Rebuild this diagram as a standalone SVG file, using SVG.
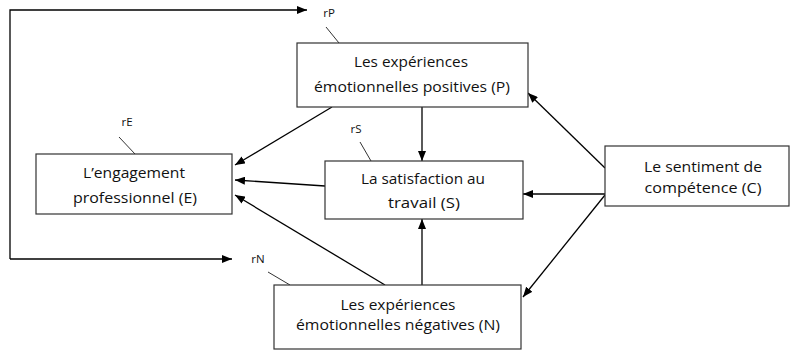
<svg xmlns="http://www.w3.org/2000/svg" width="790" height="353" viewBox="0 0 790 353">
<defs>
<marker id="ah" viewBox="0 0 10 8" refX="10" refY="4" markerWidth="10" markerHeight="8" markerUnits="userSpaceOnUse" orient="auto">
<path d="M0,0 L10,4 L0,8 Z" fill="#000"/>
</marker>
<style>
.box{fill:#fff;stroke:#333;stroke-width:1.2}
.t{font-family:"Open Sans","Liberation Sans",sans-serif;font-size:15px;fill:#111;text-anchor:middle}
.r{font-family:"Open Sans","Liberation Sans",sans-serif;font-size:11.5px;fill:#111;text-anchor:middle}
.c{fill:none;stroke:#000;stroke-width:1.3}
.lead{fill:none;stroke:#333;stroke-width:1}
</style>
</defs>
<rect width="790" height="353" fill="#fff"/>
<g id="connectors">
<polyline class="c" points="10,259 10,10 307,10" marker-end="url(#ah)"/>
<line class="c" x1="10" y1="259" x2="232" y2="259" marker-end="url(#ah)"/>
<line class="c" x1="332" y1="107" x2="235" y2="165" marker-end="url(#ah)"/>
<line class="c" x1="325" y1="186" x2="235" y2="180" marker-end="url(#ah)"/>
<line class="c" x1="385" y1="285" x2="235" y2="195" marker-end="url(#ah)"/>
<line class="c" x1="422" y1="107" x2="422" y2="161" marker-end="url(#ah)"/>
<line class="c" x1="422" y1="285" x2="422" y2="219" marker-end="url(#ah)"/>
<line class="c" x1="605" y1="168" x2="528" y2="93" marker-end="url(#ah)"/>
<line class="c" x1="605" y1="194" x2="523" y2="194" marker-end="url(#ah)"/>
<line class="c" x1="605" y1="195" x2="523" y2="297" marker-end="url(#ah)"/>
<line class="lead" x1="326" y1="27" x2="339" y2="43"/>
<line class="lead" x1="119" y1="137" x2="135" y2="154"/>
<line class="lead" x1="360" y1="142" x2="371" y2="161"/>
<line class="lead" x1="268" y1="272" x2="290" y2="285"/>
</g>
<g id="rP"><text class="r" x="329" y="17">rP</text></g>
<g id="rE"><text class="r" x="127" y="126">rE</text></g>
<g id="rS"><text class="r" x="356" y="133">rS</text></g>
<g id="rN"><text class="r" x="258" y="263">rN</text></g>
<g id="P">
<rect class="box" x="297" y="43" width="231" height="64"/>
<text class="t" x="411" y="67" textLength="114" lengthAdjust="spacingAndGlyphs">Les expériences</text>
<text class="t" x="412" y="92" textLength="196" lengthAdjust="spacingAndGlyphs">émotionnelles positives (P)</text>
</g>
<g id="E">
<rect class="box" x="36" y="154" width="196" height="60"/>
<text class="t" x="134" y="178" textLength="102" lengthAdjust="spacingAndGlyphs">L’engagement</text>
<text class="t" x="135" y="203" textLength="124" lengthAdjust="spacingAndGlyphs">professionnel (E)</text>
</g>
<g id="S">
<rect class="box" x="325" y="161" width="198" height="58"/>
<text class="t" x="423" y="184" textLength="124" lengthAdjust="spacingAndGlyphs">La satisfaction au</text>
<text class="t" x="424" y="208" textLength="72" lengthAdjust="spacingAndGlyphs">travail (S)</text>
</g>
<g id="C">
<rect class="box" x="605" y="146" width="184" height="60"/>
<text class="t" x="703" y="172" textLength="118" lengthAdjust="spacingAndGlyphs">Le sentiment de</text>
<text class="t" x="703" y="193" textLength="117" lengthAdjust="spacingAndGlyphs">compétence (C)</text>
</g>
<g id="N">
<rect class="box" x="274" y="285" width="247" height="64"/>
<text class="t" x="398" y="310" textLength="115" lengthAdjust="spacingAndGlyphs">Les expériences</text>
<text class="t" x="398" y="330" textLength="204" lengthAdjust="spacingAndGlyphs">émotionnelles négatives (N)</text>
</g>
</svg>
